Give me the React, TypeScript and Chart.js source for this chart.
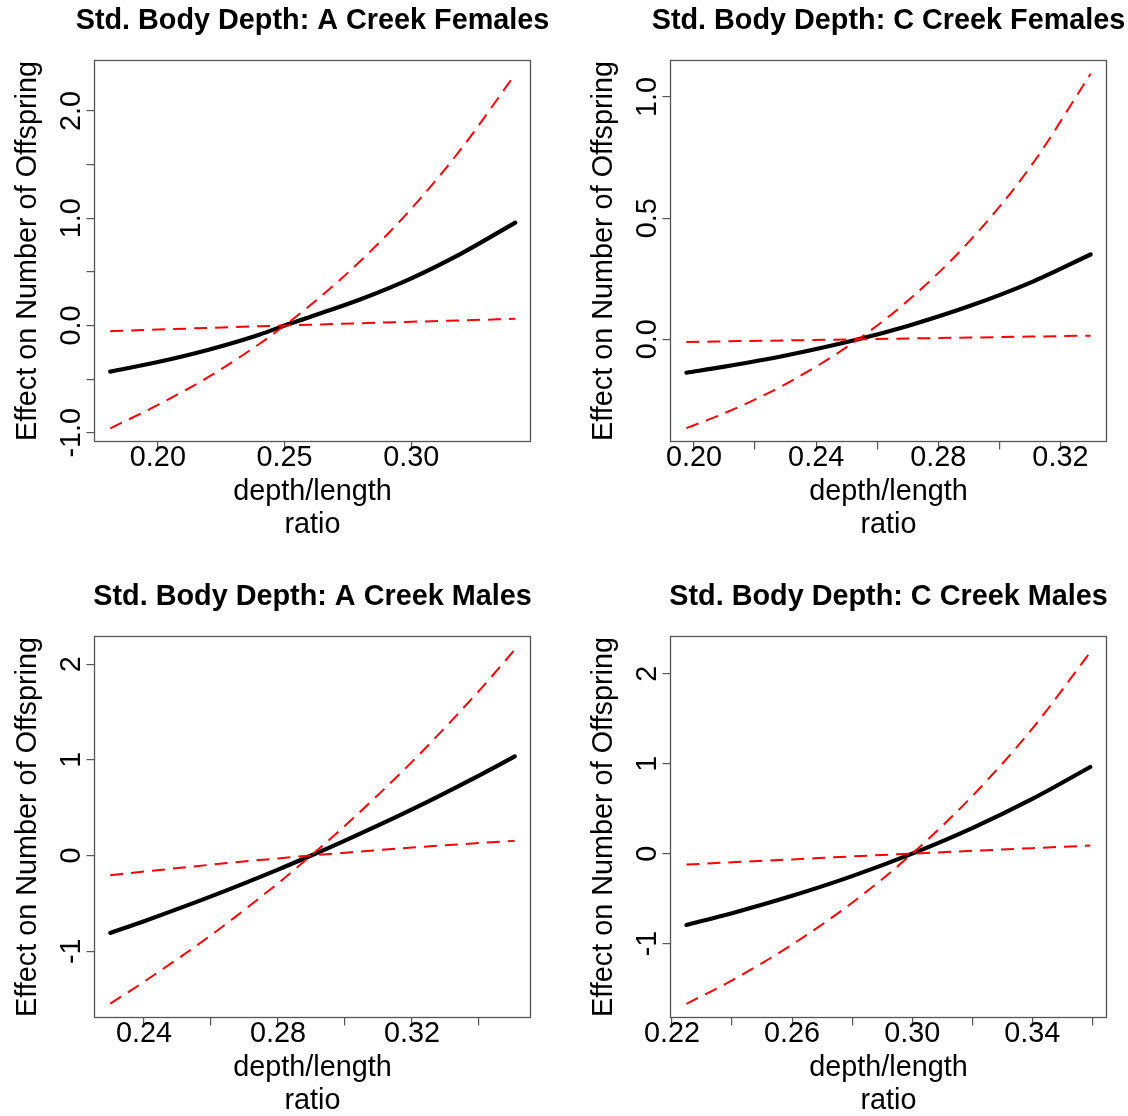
import { useEffect, useRef } from 'react';
import { Chart, registerables } from 'chart.js';

Chart.register(...registerables);

const FONT = '"Liberation Sans", Arial, Helvetica, sans-serif';
const FS = 28.8;

// ---------- Panel 1: A Creek Females ----------
const p1Title = 'Std. Body Depth: A Creek Females';
const p1X = [0.1812, 0.2, 0.22, 0.24, 0.25, 0.26, 0.28, 0.3, 0.32, 0.341];
const p1Fit = [-0.43, -0.34, -0.225, -0.085, 0, 0.08, 0.245, 0.44, 0.675, 0.959];
const p1Steep = [-0.959, -0.74, -0.479, -0.172, 0, 0.186, 0.603, 1.089, 1.657, 2.344];
const p1Flat = [-0.053, -0.038, -0.022, -0.007, 0, 0.007, 0.021, 0.035, 0.048, 0.062];
const p1XRange = [0.175, 0.347];
const p1YRange = [-1.081, 2.47];
const p1XTicks = [0.2, 0.25, 0.3];
const p1XLabels = ['0.20', '0.25', '0.30'];
const p1YTicks = [-1, -0.5, 0, 0.5, 1, 1.5, 2];
const p1YLabels = ['-1.0', '', '0.0', '', '1.0', '', '2.0'];

// ---------- Panel 2: C Creek Females ----------
const p2Title = 'Std. Body Depth: C Creek Females';
const p2X = [0.1975, 0.21, 0.23, 0.2538, 0.27, 0.29, 0.31, 0.3299];
const p2Fit = [-0.138, -0.113, -0.067, 0, 0.055, 0.136, 0.233, 0.35];
const p2Steep = [-0.367, -0.305, -0.185, 0, 0.159, 0.402, 0.709, 1.096];
const p2Flat = [-0.011, -0.0086, -0.0047, 0, 0.0032, 0.0071, 0.011, 0.015];
const p2XRange = [0.1923, 0.3351];
const p2YRange = [-0.422, 1.151];
const p2XTicks = [0.2, 0.22, 0.24, 0.26, 0.28, 0.3, 0.32];
const p2XLabels = ['0.20', '', '0.24', '', '0.28', '', '0.32'];
const p2YTicks = [0, 0.5, 1];
const p2YLabels = ['0.0', '0.5', '1.0'];

// ---------- Panel 3: A Creek Males ----------
const p3Title = 'Std. Body Depth: A Creek Males';
const p3X = [0.2299, 0.24, 0.26, 0.28, 0.2899, 0.3, 0.32, 0.34, 0.3507];
const p3Fit = [-0.809, -0.686, -0.427, -0.147, 0, 0.156, 0.482, 0.836, 1.036];
const p3Steep = [-1.548, -1.319, -0.832, -0.29, 0, 0.311, 0.979, 1.72, 2.151];
const p3Flat = [-0.206, -0.168, -0.096, -0.03, 0, 0.029, 0.083, 0.13, 0.153];
const p3XRange = [0.2252, 0.3554];
const p3YRange = [-1.693, 2.289];
const p3XTicks = [0.24, 0.26, 0.28, 0.3, 0.32, 0.34];
const p3XLabels = ['0.24', '', '0.28', '', '0.32', ''];
const p3YTicks = [-1, 0, 1, 2];
const p3YLabels = ['-1', '0', '1', '2'];

// ---------- Panel 4: C Creek Males ----------
const p4Title = 'Std. Body Depth: C Creek Males';
const p4X = [0.2248, 0.24, 0.26, 0.28, 0.3, 0.32, 0.34, 0.3593];
const p4Fit = [-0.793, -0.662, -0.469, -0.25, 0, 0.284, 0.608, 0.963];
const p4Steep = [-1.67, -1.409, -1.011, -0.546, 0, 0.64, 1.39, 2.24];
const p4Flat = [-0.122, -0.096, -0.064, -0.031, 0, 0.031, 0.061, 0.089];
const p4XRange = [0.2195, 0.3647];
const p4YRange = [-1.822, 2.414];
const p4XTicks = [0.22, 0.24, 0.26, 0.28, 0.3, 0.32, 0.34, 0.36];
const p4XLabels = ['0.22', '', '0.26', '', '0.30', '', '0.34', ''];
const p4YTicks = [-1, 0, 1, 2];
const p4YLabels = ['-1', '0', '1', '2'];

const xAxisTitle = ['depth/length', 'ratio'];
const yAxisTitle = 'Effect on Number of Offspring';

type Spec = {
  title: string;
  x: number[];
  fit: number[];
  steep: number[];
  flat: number[];
  xRange: number[];
  yRange: number[];
  xTicks: number[];
  xLabels: string[];
  yTicks: number[];
  yLabels: string[];
  left: number;
  top: number;
};

const panels: Spec[] = [
  { title: p1Title, x: p1X, fit: p1Fit, steep: p1Steep, flat: p1Flat, xRange: p1XRange, yRange: p1YRange, xTicks: p1XTicks, xLabels: p1XLabels, yTicks: p1YTicks, yLabels: p1YLabels, left: 0, top: 0 },
  { title: p2Title, x: p2X, fit: p2Fit, steep: p2Steep, flat: p2Flat, xRange: p2XRange, yRange: p2YRange, xTicks: p2XTicks, xLabels: p2XLabels, yTicks: p2YTicks, yLabels: p2YLabels, left: 576, top: 0 },
  { title: p3Title, x: p3X, fit: p3Fit, steep: p3Steep, flat: p3Flat, xRange: p3XRange, yRange: p3YRange, xTicks: p3XTicks, xLabels: p3XLabels, yTicks: p3YTicks, yLabels: p3YLabels, left: 0, top: 576 },
  { title: p4Title, x: p4X, fit: p4Fit, steep: p4Steep, flat: p4Flat, xRange: p4XRange, yRange: p4YRange, xTicks: p4XTicks, xLabels: p4XLabels, yTicks: p4YTicks, yLabels: p4YLabels, left: 576, top: 576 },
];

const CW = 625;
const CH = 540;
const AXIS_COLOR = '#555555';

function labelFor(ticks: number[], labels: string[], v: number): string {
  for (let i = 0; i < ticks.length; i++) {
    if (Math.abs(ticks[i] - v) < 1e-9) return labels[i];
  }
  return '';
}

const boxPlugin = {
  id: 'rbox',
  afterDraw(chart: any) {
    const { ctx, chartArea: a } = chart;
    ctx.save();
    ctx.strokeStyle = AXIS_COLOR;
    ctx.lineWidth = 1.3;
    ctx.strokeRect(a.left, a.top, a.right - a.left, a.bottom - a.top);
    ctx.restore();
  },
};

const yLabelPlugin = {
  id: 'ylabels',
  afterDraw(chart: any) {
    const { ctx, chartArea: a } = chart;
    const sc = chart.scales.y;
    ctx.save();
    ctx.fillStyle = '#000';
    ctx.font = `${FS}px ${FONT}`;
    ctx.textAlign = 'center';
    ctx.textBaseline = 'alphabetic';
    for (const t of sc.ticks) {
      const lab = t.label;
      if (!lab) continue;
      const py = sc.getPixelForValue(t.value);
      ctx.save();
      ctx.translate(a.left - 14.3, py);
      ctx.rotate(-Math.PI / 2);
      ctx.fillText(lab, 0, 0);
      ctx.restore();
    }
    ctx.restore();
  },
};

function Panel({ spec }: { spec: Spec }) {
  const ref = useRef<HTMLCanvasElement>(null);
  useEffect(() => {
    if (!ref.current) return;
    const pts = (ys: number[]) => spec.x.map((x, i) => ({ x, y: ys[i] }));
    const chart = new Chart(ref.current, {
      type: 'line',
      data: {
        datasets: [
          {
            label: 'upper',
            data: pts(spec.steep),
            borderColor: '#ff0000',
            borderWidth: 2,
            borderDash: [13, 8],
            pointRadius: 0,
            cubicInterpolationMode: 'monotone',
            fill: false,
          },
          {
            label: 'lower',
            data: pts(spec.flat),
            borderColor: '#ff0000',
            borderWidth: 2,
            borderDash: [13, 8],
            pointRadius: 0,
            cubicInterpolationMode: 'monotone',
            fill: false,
          },
          {
            label: 'effect',
            data: pts(spec.fit),
            borderColor: '#000000',
            borderWidth: 4.2,
            borderCapStyle: 'round',
            pointRadius: 0,
            cubicInterpolationMode: 'monotone',
            fill: false,
          },
        ],
      },
      options: {
        responsive: false,
        animation: false,
        devicePixelRatio: 1,
        layout: { padding: 0 },
        plugins: {
          legend: { display: false },
          tooltip: { enabled: false },
          title: {
            display: true,
            text: spec.title,
            color: '#000',
            font: { family: FONT, size: FS, weight: 'bold', lineHeight: 1.2 },
            padding: { top: 4.2, bottom: 21.74 },
          },
        },
        scales: {
          x: {
            type: 'linear',
            min: spec.xRange[0],
            max: spec.xRange[1],
            afterBuildTicks: (s: any) => {
              s.ticks = spec.xTicks.map((v) => ({ value: v }));
            },
            afterFit: (s: any) => {
              s.height = 98.5;
            },
            ticks: {
              autoSkip: false,
              maxRotation: 0,
              minRotation: 0,
              color: '#000',
              padding: -0.3,
              font: { family: FONT, size: FS, lineHeight: 0.6 },
              callback: (v: any) => labelFor(spec.xTicks, spec.xLabels, Number(v)),
            },
            grid: { drawOnChartArea: false, drawTicks: true, tickLength: 8, color: AXIS_COLOR, lineWidth: 1.2 },
            border: { display: false },
            title: {
              display: true,
              text: xAxisTitle,
              color: '#000',
              font: { family: FONT, size: FS, lineHeight: 1.15 },
              padding: { top: 0, bottom: -1.8 },
            },
          },
          y: {
            type: 'linear',
            position: 'left',
            min: spec.yRange[0],
            max: spec.yRange[1],
            afterBuildTicks: (s: any) => {
              s.ticks = spec.yTicks.map((v) => ({ value: v }));
            },
            afterFit: (s: any) => {
              s.width = 94.5;
            },
            ticks: {
              display: false,
              callback: (v: any) => labelFor(spec.yTicks, spec.yLabels, Number(v)),
            },
            grid: { drawOnChartArea: false, drawTicks: true, tickLength: 8, color: AXIS_COLOR, lineWidth: 1.2 },
            border: { display: false },
            title: {
              display: true,
              text: yAxisTitle,
              color: '#000',
              font: { family: FONT, size: FS, lineHeight: 1.2 },
              padding: { top: 11.0, bottom: 0 },
            },
          },
          yRightSpace: {
            type: 'linear',
            position: 'right',
            display: true,
            ticks: { display: false },
            grid: { display: false, drawTicks: false },
            border: { display: false },
            afterFit: (s: any) => {
              s.width = 94.5;
            },
          },
        },
      },
      plugins: [boxPlugin, yLabelPlugin],
    } as any);
    return () => chart.destroy();
  }, [spec]);
  return (
    <canvas
      ref={ref}
      width={CW}
      height={CH}
      style={{ position: 'absolute', left: spec.left, top: spec.top, width: CW, height: CH, display: 'block' }}
    />
  );
}

export default function App() {
  return (
    <div
      style={{
        position: 'absolute',
        left: 0,
        top: 0,
        width: 1128,
        height: 1116,
        overflow: 'hidden',
        background: '#ffffff',
      }}
    >
      {panels.map((p, i) => (
        <Panel key={i} spec={p} />
      ))}
    </div>
  );
}
